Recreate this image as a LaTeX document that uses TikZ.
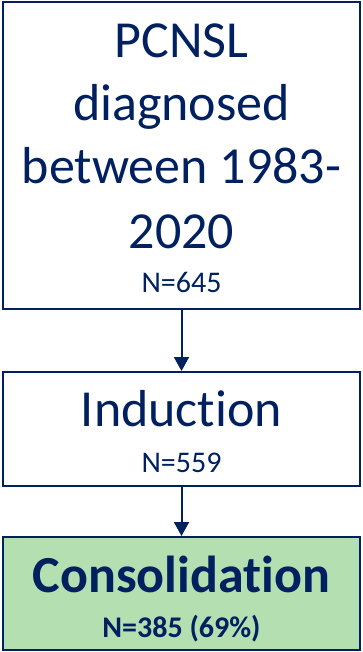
\documentclass[tikz,border=0pt]{standalone}
\usepackage{fontspec}
\setmainfont{Carlito}[RawFeature={-liga;-clig;-dlig}]
\usetikzlibrary{arrows.meta}
\definecolor{navy}{HTML}{002060}
\definecolor{lgreen}{HTML}{B4DFB0}
\tikzset{
  box/.style={draw=navy, line width=2pt, rectangle, inner sep=0pt, minimum width=357pt},
  big/.style={text=navy, font=\fontsize{52}{62}\selectfont, anchor=base, inner sep=0pt},
  small/.style={text=navy, font=\fontsize{30}{36}\selectfont, anchor=base, inner sep=0pt},
  conn/.style={draw=navy, line width=2pt, -{Triangle[width=15pt,length=14pt]}}
}
\begin{document}
\begin{tikzpicture}[x=1pt,y=1pt]
\useasboundingbox (0,0) rectangle (362,-652);
% boxes
\node[box, minimum height=307pt] (top) at (181.5,-155.5) {};
\node[box, minimum height=114pt] (mid) at (181.5,-429) {};
\node[box, fill=lgreen, minimum height=113pt] (bot) at (181.5,-593.5) {};
% top texts
\node[big] (t1) at (181.5,-58) {PCNSL};
\node[big] (t2) at (181.5,-121) {diagnosed};
\node[big] (t3) at (181.5,-184) {between 1983-};
\node[big] (t4) at (181.5,-248) {2020};
\node[small] (t5) at (181.5,-292) {N=645};
% middle texts
\node[big] (m1) at (181.5,-426) {Induction};
\node[small] (m2) at (181.5,-472) {N=559};
% bottom texts
\node[big, font=\fontsize{52}{62}\selectfont\bfseries] (b1) at (181.5,-592) {Consolidation};
\node[small, font=\fontsize{30}{36}\selectfont\bfseries] (b2) at (181.5,-637) {N=385 (69\%)};
% connectors
\draw[conn] (top.south) -- (mid.north);
\draw[conn] (mid.south) -- (bot.north);
\end{tikzpicture}
\end{document}
